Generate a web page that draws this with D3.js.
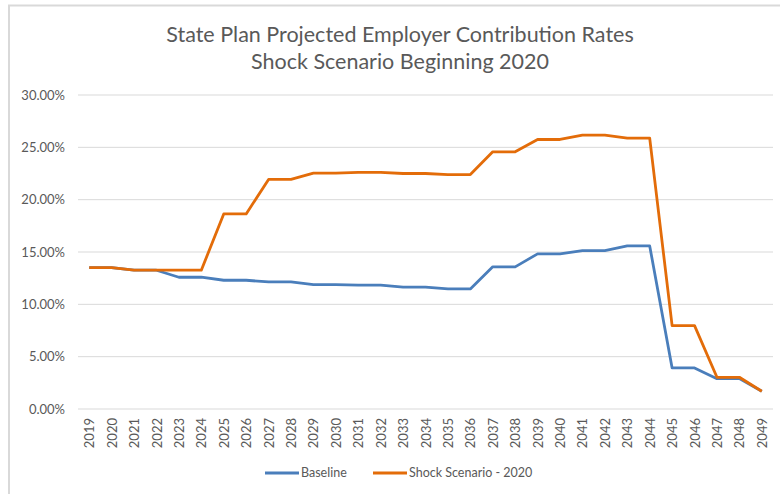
<!DOCTYPE html>
<html>
<meta charset="utf-8">
<head>
  <script src="https://d3js.org/d3.v7.min.js"></script>
  <style>
    body { margin: 0; background: #fff; }
    text { font-family: Lato, "Open Sans", sans-serif; fill: #595959; }
  </style>
</head>
<body>
<svg id="chart" width="780" height="494"></svg>
<script>
  var years = d3.range(2019, 2050).map(String);
  var baseline = [13.5, 13.5, 13.26, 13.26, 12.59, 12.59, 12.3, 12.3, 12.14, 12.14,
                  11.89, 11.89, 11.83, 11.83, 11.64, 11.64, 11.47, 11.47, 13.58, 13.58,
                  14.82, 14.82, 15.14, 15.14, 15.58, 15.58, 3.92, 3.92, 2.9, 2.9, 1.69];
  var shock = [13.5, 13.5, 13.26, 13.26, 13.26, 13.26, 18.64, 18.64, 21.93, 21.93,
               22.53, 22.53, 22.6, 22.6, 22.5, 22.5, 22.4, 22.4, 24.57, 24.57,
               25.75, 25.75, 26.17, 26.17, 25.88, 25.88, 7.97, 7.97, 3.03, 3.03, 1.69];
  var yTicks = [0, 5, 10, 15, 20, 25, 30];
  var seriesNames = ["Baseline", "Shock Scenario - 2020"];
  var colors = ["#4a7ebb", "#e36c09"];

  var svg = d3.select("#chart");
  var margin = {top: 95, right: 7, bottom: 85, left: 78};
  var width = +svg.attr("width") - margin.left - margin.right;
  var height = 409 - margin.top;

  // chart frame (top and left edges visible)
  svg.append("path")
    .attr("d", "M9,500 V5.5 H780")
    .attr("fill", "none")
    .attr("stroke", "#d9d9d9")
    .attr("stroke-width", 2);

  svg.append("text")
    .attr("x", 400).attr("y", 42)
    .attr("text-anchor", "middle")
    .style("font-size", "21.5px")
    .text("State Plan Projected Employer Contribution Rates");
  svg.append("text")
    .attr("x", 400).attr("y", 69)
    .attr("text-anchor", "middle")
    .style("font-size", "21.5px")
    .text("Shock Scenario Beginning 2020");

  var g = svg.append("g").attr("transform", `translate(${margin.left}, ${margin.top})`);

  var x = d3.scalePoint().domain(years).range([0, width]).padding(0.5);
  var y = d3.scaleLinear().domain([0, 30]).range([height, 0]);

  // gridlines
  g.append("g")
    .selectAll("line")
    .data(yTicks)
    .join("line")
    .attr("x1", 0).attr("x2", width)
    .attr("y1", d => y(d)).attr("y2", d => y(d))
    .attr("stroke", "#d9d9d9")
    .attr("stroke-width", 1);

  var yAxis = g.append("g")
    .call(d3.axisLeft(y).tickValues(yTicks).tickSize(0).tickPadding(13).tickFormat(d => d.toFixed(2) + "%"));
  yAxis.select(".domain").remove();
  yAxis.selectAll("text").style("font-size", "13px").style("font-family", null);

  var xAxis = g.append("g")
    .attr("transform", `translate(0, ${height})`)
    .call(d3.axisBottom(x).tickSize(0));
  xAxis.select(".domain").remove();
  xAxis.selectAll("text")
    .attr("transform", "rotate(-90)")
    .attr("x", -9).attr("y", 0).attr("dy", "0.35em")
    .style("text-anchor", "end")
    .style("font-size", "13px")
    .style("font-family", null);

  var line = d3.line()
    .x((d, i) => x(years[i]))
    .y(d => y(d));

  [baseline, shock].forEach(function(s, i) {
    g.append("path")
      .datum(s)
      .attr("d", line)
      .attr("fill", "none")
      .attr("stroke", colors[i])
      .attr("stroke-width", 2.8)
      .attr("stroke-linejoin", "round");
  });

  // legend
  var legendX = [265, 373];
  var legend = svg.append("g");
  seriesNames.forEach(function(name, i) {
    legend.append("line")
      .attr("x1", legendX[i]).attr("x2", legendX[i] + 34)
      .attr("y1", 473).attr("y2", 473)
      .attr("stroke", colors[i]).attr("stroke-width", 2.8);
    legend.append("text")
      .attr("x", legendX[i] + 36).attr("y", 473).attr("dy", "0.35em")
      .style("font-size", "12.5px")
      .text(name);
  });
</script>
</body>
</html>
